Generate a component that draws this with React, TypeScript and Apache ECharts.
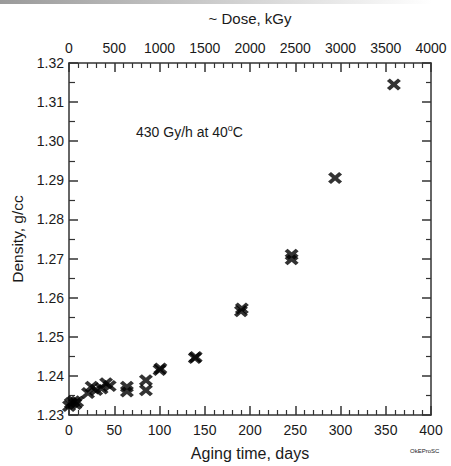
import React, { useEffect, useRef } from "react";
import * as echarts from "echarts";

// Aging time (days) and measured density (g/cc)
const agingDays = [0, 2, 5, 7, 9, 21, 25, 30, 36, 41, 45, 64, 64, 85, 85, 100, 101, 139, 140, 190, 191, 246, 246, 294, 359];
const density = [1.2323, 1.233, 1.2335, 1.2328, 1.2334, 1.2356, 1.2372, 1.2364, 1.2368, 1.2381, 1.2374, 1.2372, 1.236, 1.2389, 1.2363, 1.2415, 1.2419, 1.2446, 1.2448, 1.2565, 1.2572, 1.2698, 1.271, 1.2906, 1.3145];

const dayTicks = { min: 0, max: 400, step: 50 };
const doseTicks = { min: 0, max: 4000, step: 500 };
const densityTicks = { min: 1.23, max: 1.32, step: 0.01 };

const FONT = "Liberation Sans, Arial, sans-serif";
const INK = "#1a1a1a";
const X_MARK =
  "path://M0,2.5 L2.5,0 L6,3.5 L9.5,0 L12,2.5 L8.5,6 L12,9.5 L9.5,12 L6,8.5 L2.5,12 L0,9.5 L3.5,6 Z";

export default function App() {
  const ref = useRef<HTMLDivElement>(null);

  useEffect(() => {
    document.body.style.margin = "0";
    if (!ref.current) return;
    const chart = echarts.init(ref.current, null, { renderer: "svg" });

    const lineStyle = { color: "#333", width: 1.5 };
    const minorLine = { color: "#333", width: 1.2 };
    const label = { color: INK, fontFamily: FONT, fontSize: 14 };

    chart.setOption({
      animation: false,
      backgroundColor: "#fff",
      grid: { left: 69, right: 20, top: 63, bottom: 42, containLabel: false },
      xAxis: [
        {
          type: "value",
          position: "bottom",
          min: dayTicks.min,
          max: dayTicks.max,
          interval: dayTicks.step,
          name: "Aging time, days",
          nameLocation: "middle",
          nameGap: 30,
          nameTextStyle: { color: INK, fontFamily: FONT, fontSize: 16 },
          axisLine: { show: true, onZero: false, lineStyle },
          axisTick: { show: true, inside: true, length: 9, lineStyle },
          minorTick: { show: true, splitNumber: 5, length: 5, lineStyle: minorLine },
          axisLabel: { ...label, margin: 8, formatter: (v: number) => String(v) },
          splitLine: { show: false },
        },
        {
          type: "value",
          position: "top",
          min: doseTicks.min,
          max: doseTicks.max,
          interval: doseTicks.step,
          name: "~ Dose, kGy",
          nameLocation: "middle",
          nameGap: 37,
          nameTextStyle: { color: INK, fontFamily: FONT, fontSize: 15 },
          axisLine: { show: true, onZero: false, lineStyle },
          axisTick: { show: true, inside: true, length: 9, lineStyle },
          minorTick: { show: true, splitNumber: 5, length: 5, lineStyle: minorLine },
          axisLabel: { ...label, margin: 8, formatter: (v: number) => String(v) },
          splitLine: { show: false },
        },
      ],
      yAxis: [
        {
          type: "value",
          position: "left",
          min: densityTicks.min,
          max: densityTicks.max,
          interval: densityTicks.step,
          name: "Density, g/cc",
          nameLocation: "middle",
          nameGap: 40,
          nameTextStyle: { color: INK, fontFamily: FONT, fontSize: 15.5 },
          axisLine: { show: true, onZero: false, lineStyle },
          axisTick: { show: true, inside: true, length: 9, lineStyle },
          minorTick: { show: true, splitNumber: 2, length: 6, lineStyle: minorLine },
          axisLabel: { ...label, margin: 5, formatter: (v: number) => v.toFixed(2) },
          splitLine: { show: false },
        },
        {
          type: "value",
          position: "right",
          min: densityTicks.min,
          max: densityTicks.max,
          interval: densityTicks.step,
          axisLine: { show: true, onZero: false, lineStyle },
          axisTick: { show: true, inside: true, length: 9, lineStyle },
          minorTick: { show: true, splitNumber: 2, length: 5, lineStyle: minorLine },
          axisLabel: { show: false },
          splitLine: { show: false },
        },
      ],
      series: [
        {
          type: "scatter",
          xAxisIndex: 0,
          yAxisIndex: 0,
          symbol: X_MARK,
          symbolSize: [14, 12],
          itemStyle: { color: "#000" },
          data: agingDays.map((d, i) => [d, density[i]]),
        },
      ],
      graphic: [
        {
          type: "rect",
          left: 0,
          top: 0,
          shape: { width: 432, height: 4 },
          style: {
            fill: new echarts.graphic.LinearGradient(0, 0, 1, 0, [
              { offset: 0, color: "#9a9a9a" },
              { offset: 1, color: "#ffffff" },
            ]),
          },
          silent: true,
        },
        {
          type: "text",
          left: 136,
          top: 123,
          style: {
            text: "430 Gy/h at 40{sup|o}C",
            fill: INK,
            font: `14px ${FONT}`,
            rich: {
              sup: { fontSize: 9, fontFamily: FONT, fill: INK, verticalAlign: "top", padding: [0, 0, 8, 0] },
            },
          },
        },
        {
          type: "text",
          left: 410,
          top: 448,
          style: { text: "OkEProSC", fill: INK, font: `6px ${FONT}` },
        },
      ],
    });

    return () => chart.dispose();
  }, []);

  return <div ref={ref} style={{ width: 451, height: 466 }} />;
}
